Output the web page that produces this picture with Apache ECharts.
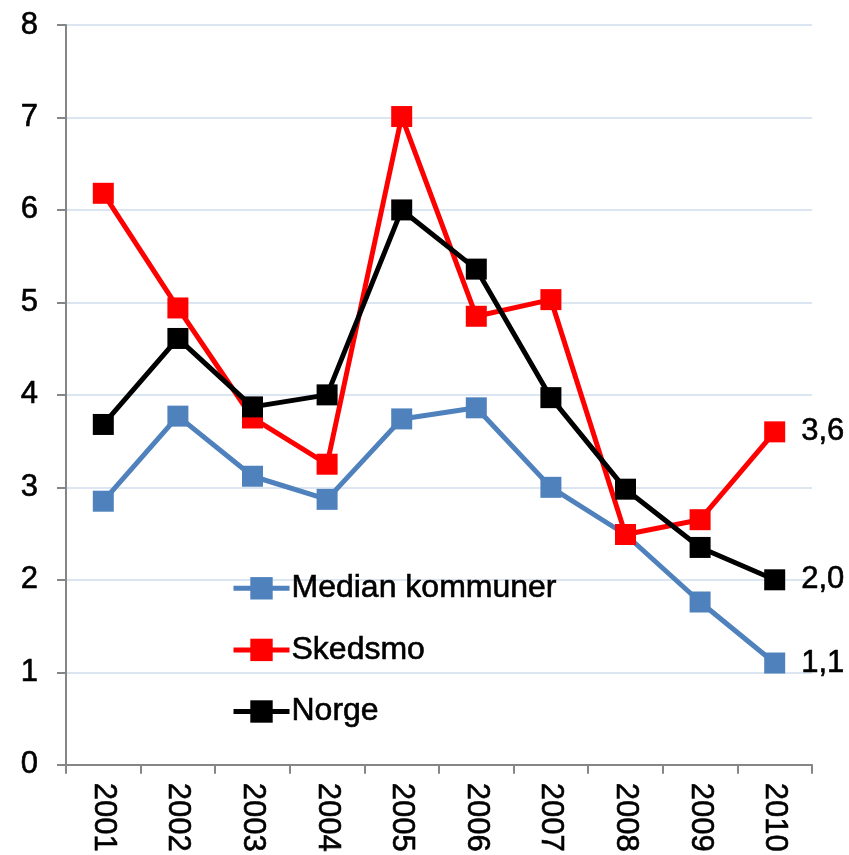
<!DOCTYPE html>
<html>
<head>
<meta charset="utf-8">
<script src="https://cdn.jsdelivr.net/npm/echarts@6/dist/echarts.min.js"></script>
<style>
html,body{margin:0;padding:0;background:#fff;}
#chart{width:849px;height:855px;}
</style>
</head>
<body>
<div id="chart"></div>
<script>
var years = ['2001','2002','2003','2004','2005','2006','2007','2008','2009','2010'];
var medianKommuner = [2.85, 3.77, 3.12, 2.87, 3.74, 3.86, 3.0, 2.49, 1.76, 1.1];
var skedsmo = [6.18, 4.94, 3.75, 3.25, 7.01, 4.85, 5.03, 2.49, 2.65, 3.6];
var norge = [3.68, 4.61, 3.87, 4.0, 6.0, 5.36, 3.97, 2.98, 2.35, 2.0];
var endLabels = ['1,1', '3,6', '2,0'];
var yTicks = [0,1,2,3,4,5,6,7,8];

var FONT = 'Liberation Sans, Arial, sans-serif';
var TXT = { color: '#000', fontFamily: FONT, textBorderColor: '#000', textBorderWidth: 0.6 };

function txt(size, extra) {
  var o = Object.assign({}, TXT, { fontSize: size });
  return Object.assign(o, extra || {});
}

function mkSeries(name, data, color, endLabel) {
  var d = data.map(function (v, i) {
    if (i === data.length - 1) {
      return {
        value: v,
        label: txt(31, { show: true, position: 'right', distance: 16, formatter: endLabel })
      };
    }
    return v;
  });
  return {
    name: name,
    type: 'line',
    data: d,
    symbol: 'rect',
    symbolSize: 21,
    showSymbol: true,
    lineStyle: { color: color, width: 5 },
    itemStyle: { color: color, borderWidth: 0 },
    emphasis: { disabled: true },
    animation: false,
    z: 3
  };
}

var chart = echarts.init(document.getElementById('chart'), null, { renderer: 'canvas' });
chart.setOption({
  animation: false,
  backgroundColor: '#ffffff',
  grid: { left: 66, right: 37, top: 25, bottom: 90, containLabel: false },
  legend: {
    orient: 'vertical',
    left: 226,
    top: 567,
    itemWidth: 56,
    itemHeight: 28,
    itemGap: 29,
    lineStyle: { width: 5 },
    textStyle: txt(32, { padding: [0, 0, 0, -3] }),
    data: ['Median kommuner', 'Skedsmo', 'Norge']
  },
  xAxis: {
    type: 'category',
    data: years,
    boundaryGap: true,
    axisLine: { show: true, lineStyle: { color: '#868686', width: 2 } },
    axisTick: { show: true, length: 9, lineStyle: { color: '#868686', width: 2 } },
    axisLabel: txt(31, { rotate: -90, margin: 18 }),
    splitLine: { show: false }
  },
  yAxis: {
    type: 'value',
    min: 0, max: 8, interval: 1,
    axisLine: { show: true, lineStyle: { color: '#868686', width: 2 } },
    axisTick: { show: true, length: 9, lineStyle: { color: '#868686', width: 2 } },
    axisLabel: txt(31, { margin: 28,
      formatter: function (v) { return yTicks.indexOf(v) >= 0 ? String(v) : ''; } }),
    splitLine: { show: true, lineStyle: { color: '#dce6f2', width: 2 } }
  },
  series: [
    mkSeries('Median kommuner', medianKommuner, '#4f81bd', endLabels[0]),
    mkSeries('Skedsmo', skedsmo, '#ff0000', endLabels[1]),
    mkSeries('Norge', norge, '#000000', endLabels[2])
  ]
});
</script>
</body>
</html>
